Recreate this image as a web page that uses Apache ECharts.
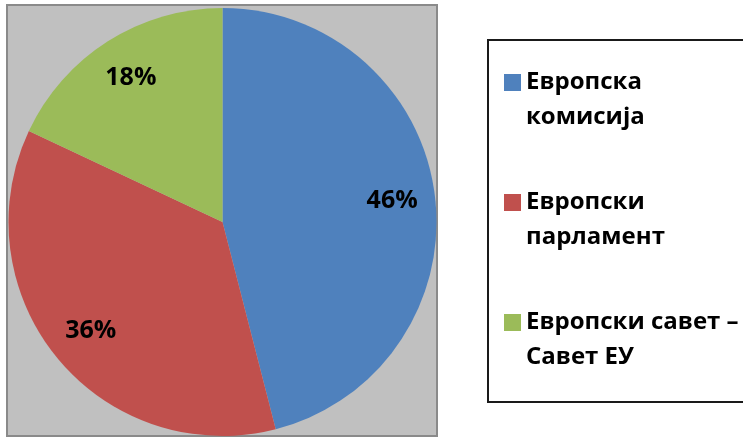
<!DOCTYPE html>
<html>
<head>
<meta charset="utf-8">
<script src="https://cdn.jsdelivr.net/npm/echarts@6/dist/echarts.min.js"></script>
<style>
html,body{margin:0;padding:0;background:#fff;}
#chart{width:743px;height:438px;}
</style>
</head>
<body>
<div id="chart"></div>
<script>
const categories = ['Европска\nкомисија', 'Европски\nпарламент', 'Европски савет –\nСавет ЕУ'];
const values = [46, 36, 18];
const colors = ['#4f81bd', '#c0504d', '#9bbb59'];

const chart = echarts.init(document.getElementById('chart'));
const pieData = categories.map((c, i) => ({ name: c, value: values[i], itemStyle: { color: colors[i] } }));
const labelData = categories.map((c, i) => ({ name: c, value: values[i] }));

chart.setOption({
  animation: false,
  graphic: [
    { type: 'rect', z: -10, shape: { x: 7, y: 5, width: 430, height: 431 },
      style: { fill: '#c0c0c0', stroke: '#8a8a8a', lineWidth: 2 } },
    { type: 'rect', z: -10, shape: { x: 488, y: 40, width: 270, height: 362 },
      style: { fill: '#ffffff', stroke: '#1a1a1a', lineWidth: 2 } }
  ],
  legend: {
    orient: 'vertical',
    left: 504,
    top: 30,
    itemWidth: 17,
    itemHeight: 17,
    itemGap: 15,
    icon: 'rect',
    padding: 0,
    data: categories.map((c, i) => ({ name: c, itemStyle: { color: colors[i] } })),
    formatter: name => '\n' + name,
    textStyle: {
      fontFamily: 'Open Sans',
      fontWeight: 'bold',
      fontSize: 24,
      color: '#000',
      lineHeight: 35
    }
  },
  series: [
    {
      type: 'pie',
      center: [222.5, 222],
      radius: [0, 214],
      startAngle: 90,
      clockwise: true,
      label: { show: false },
      labelLine: { show: false },
      itemStyle: { borderWidth: 0 },
      silent: true,
      data: pieData
    },
    {
      type: 'pie',
      center: [222.5, 222],
      radius: [122, 214],
      startAngle: 90,
      clockwise: true,
      silent: true,
      legendHoverLink: false,
      itemStyle: { color: 'rgba(0,0,0,0)', borderWidth: 0 },
      label: {
        show: true,
        position: 'inside',
        formatter: '{c}%',
        fontFamily: 'Open Sans',
        fontWeight: 'bold',
        fontSize: 25,
        color: '#000'
      },
      labelLine: { show: false },
      data: labelData
    }
  ]
});
</script>
</body>
</html>
